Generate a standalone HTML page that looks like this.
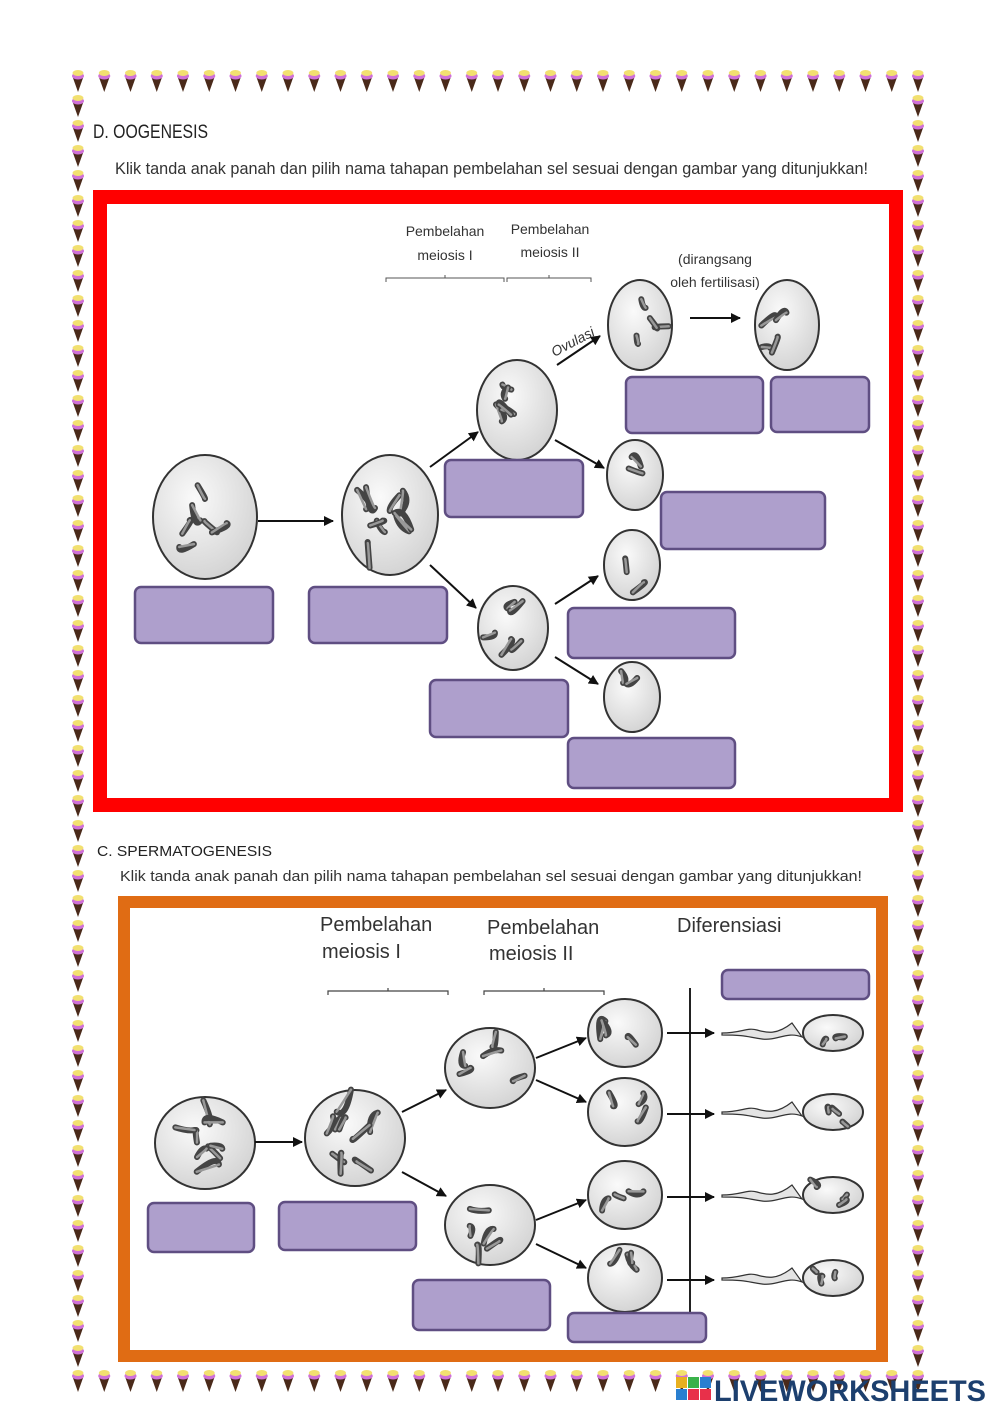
<!DOCTYPE html>
<html><head><meta charset="utf-8"><style>
html,body{margin:0;padding:0;background:#fff;}
svg{display:block;}
</style></head><body>
<svg id="s" width="1000" height="1414" viewBox="0 0 1000 1414" xmlns="http://www.w3.org/2000/svg" font-family="Liberation Sans, sans-serif">
<defs>
<radialGradient id="cg" cx="40%" cy="35%" r="70%"><stop offset="0" stop-color="#fafafa"/><stop offset="1" stop-color="#d2d2d2"/></radialGradient>
<marker id="ah" viewBox="0 0 10 10" refX="9" refY="5" markerWidth="5" markerHeight="5" orient="auto"><path d="M0,0L10,5L0,10z" fill="#111"/></marker>
</defs>
<g id="icons"></g>
<text x="93" y="138" font-size="19" fill="#222" textLength="115" lengthAdjust="spacingAndGlyphs">D. OOGENESIS</text>
<text x="115" y="174" font-size="17" fill="#333" textLength="753" lengthAdjust="spacingAndGlyphs">Klik tanda anak panah dan pilih nama tahapan pembelahan sel sesuai dengan gambar yang ditunjukkan!</text>
<rect x="100" y="197" width="796" height="608" fill="#fff" stroke="#f00" stroke-width="14"/>
<g font-size="14" fill="#333" text-anchor="middle">
<text x="445" y="236">Pembelahan</text><text x="445" y="260">meiosis I</text>
<text x="550" y="234">Pembelahan</text><text x="550" y="257">meiosis II</text>
<text x="715" y="264">(dirangsang</text><text x="715" y="287">oleh fertilisasi)</text>
<text x="575" y="346" transform="rotate(-28 575 346)" font-style="italic">Ovulasi</text>
</g>
<path d="M386,282v-4h118v4M445,278v-3M507,282v-4h84v4M549,278v-3" fill="none" stroke="#555" stroke-width="1"/>
<g id="cells"></g>
<g stroke="#111" stroke-width="2" marker-end="url(#ah)" fill="none">
<line x1="258" y1="521" x2="333" y2="521"/>
<line x1="430" y1="467" x2="478" y2="432"/>
<line x1="430" y1="565" x2="476" y2="608"/>
<line x1="557" y1="365" x2="600" y2="336"/>
<line x1="555" y1="440" x2="604" y2="468"/>
<line x1="555" y1="604" x2="598" y2="576"/>
<line x1="555" y1="657" x2="598" y2="684"/>
<line x1="690" y1="318" x2="740" y2="318"/>
</g>
<text x="97" y="856" font-size="15" fill="#222" textLength="175" lengthAdjust="spacingAndGlyphs">C. SPERMATOGENESIS</text>
<text x="120" y="881" font-size="15" fill="#333" textLength="742" lengthAdjust="spacingAndGlyphs">Klik tanda anak panah dan pilih nama tahapan pembelahan sel sesuai dengan gambar yang ditunjukkan!</text>
<rect x="124" y="902" width="758" height="454" fill="#fff" stroke="#e06c14" stroke-width="12"/>
<g font-size="20" fill="#333">
<text x="320" y="931">Pembelahan</text><text x="322" y="958">meiosis I</text>
<text x="487" y="934">Pembelahan</text><text x="489" y="960">meiosis II</text>
<text x="677" y="932">Diferensiasi</text>
</g>
<path d="M328,995v-4h120v4M388,991v-3M484,995v-4h120v4M544,991v-3" fill="none" stroke="#444" stroke-width="1.2"/>
<line x1="690" y1="988" x2="690" y2="1342" stroke="#222" stroke-width="2"/>
<g id="cells2"></g>
<g stroke="#111" stroke-width="2" marker-end="url(#ah)" fill="none">
<line x1="255" y1="1142" x2="302" y2="1142"/>
<line x1="402" y1="1112" x2="446" y2="1090"/>
<line x1="402" y1="1172" x2="446" y2="1196"/>
<line x1="536" y1="1058" x2="586" y2="1038"/>
<line x1="536" y1="1080" x2="586" y2="1102"/>
<line x1="536" y1="1220" x2="586" y2="1200"/>
<line x1="536" y1="1244" x2="586" y2="1268"/>
<line x1="667" y1="1033" x2="714" y2="1033"/>
<line x1="667" y1="1114" x2="714" y2="1114"/>
<line x1="667" y1="1197" x2="714" y2="1197"/>
<line x1="667" y1="1280" x2="714" y2="1280"/>
</g>
<g id="boxes" fill="#ae9fcc" stroke="#5f4e82" stroke-width="2.5"></g>
<g>
<rect x="676" y="1377" width="11" height="11" fill="#e8b020"/><rect x="688" y="1377" width="11" height="11" fill="#3ab24a"/><rect x="700" y="1377" width="11" height="11" fill="#2a7fd0"/>
<rect x="676" y="1389" width="11" height="11" fill="#2a7fd0"/><rect x="688" y="1389" width="11" height="11" fill="#e8304a"/><rect x="700" y="1389" width="11" height="11" fill="#e8304a"/>
<text x="714" y="1401" font-size="30" font-weight="bold" fill="#1c3f6e" textLength="272" lengthAdjust="spacingAndGlyphs">LIVEWORKSHEETS</text>
</g>
</svg>
<script>
var NS="http://www.w3.org/2000/svg";
function el(p,t,a){var e=document.createElementNS(NS,t);for(var k in a)e.setAttribute(k,a[k]);p.appendChild(e);return e;}
var ic=document.getElementById("icons");
function icon(x,y){el(ic,"path",{d:"M"+(x-5)+","+(y+8)+"L"+(x+5)+","+(y+8)+"L"+x+","+(y+22)+"z",fill:"#4a2a1a"});
el(ic,"ellipse",{cx:x,cy:y+6,rx:6,ry:3.5,fill:"#d070d8"});el(ic,"ellipse",{cx:x,cy:y+3,rx:5.5,ry:3,fill:"#f2e070"});}
for(var i=0;i<33;i++){icon(78+i*26.25,70);icon(78+i*26.25,1370);}
for(var y=95;y<1370;y+=25){icon(78,y);icon(918,y);}
var seed=7;function r(){seed=(seed*9301+49297)%233280;return seed/233280;}
function cell(g,cx,cy,rx,ry,n){el(g,"ellipse",{cx:cx,cy:cy,rx:rx,ry:ry,fill:"url(#cg)",stroke:"#333","stroke-width":2});
for(var i=0;i<n;i++){var x=cx+(r()-.5)*rx*1.1,y=cy+(r()-.5)*ry*1.1,a=r()*6.28,l=Math.min(rx,ry)*(0.25+r()*0.3);
var x2=x+Math.cos(a)*l,y2=y+Math.sin(a)*l;
el(g,"path",{d:"M"+x+","+y+"Q"+(x+(r()-.5)*l)+","+(y+(r()-.5)*l)+" "+x2+","+y2,stroke:"#444","stroke-width":6,fill:"none","stroke-linecap":"round"});
el(g,"path",{d:"M"+x+","+y+"Q"+(x+(r()-.5)*2)+","+(y)+" "+x2+","+y2,stroke:"#999","stroke-width":2.5,fill:"none","stroke-linecap":"round"});}}
var c=document.getElementById("cells");
cell(c,205,517,52,62,6);cell(c,390,515,48,60,9);cell(c,517,410,40,50,5);cell(c,513,628,35,42,5);
cell(c,640,325,32,45,4);cell(c,787,325,32,45,4);cell(c,635,475,28,35,2);cell(c,632,565,28,35,2);cell(c,632,697,28,35,2);
var c2=document.getElementById("cells2");
cell(c2,205,1143,50,46,8);cell(c2,355,1138,50,48,9);cell(c2,490,1068,45,40,5);cell(c2,490,1225,45,40,5);
[1033,1112,1195,1278].forEach(function(yy){cell(c2,625,yy,37,34,3);
el(c2,"path",{d:"M722,"+yy+"c20,0 25,-6 35,-3s20,5 35,-7l10,14c-15,-6 -25,4 -40,2s-15,-4 -40,-4z",fill:"#e4e4e4",stroke:"#333","stroke-width":1.2});
cell(c2,833,yy,30,18,3);});
var b=document.getElementById("boxes");
[[135,587,138,56],[309,587,138,56],[445,460,138,57],[626,377,137,56],[771,377,98,55],[661,492,164,57],[568,608,167,50],[430,680,138,57],[568,738,167,50],
[148,1203,106,49],[279,1202,137,48],[413,1280,137,50],[568,1313,138,29],[722,970,147,29]].forEach(function(q){el(b,"rect",{x:q[0],y:q[1],width:q[2],height:q[3],rx:6});});
</script>
</body></html>
